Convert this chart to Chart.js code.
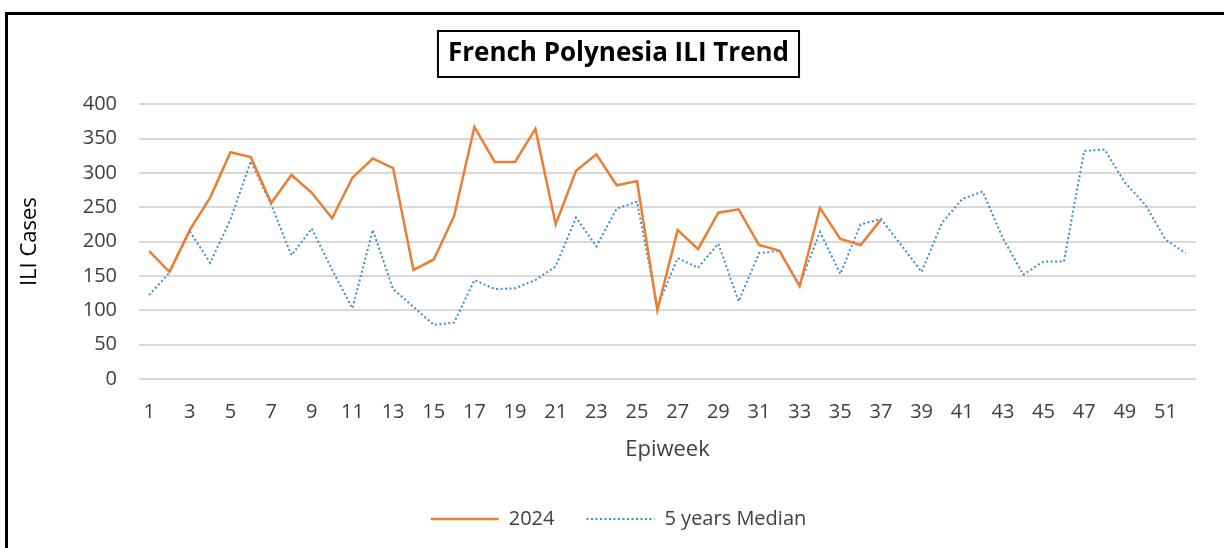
<!DOCTYPE html>
<html>
<head>
<meta charset="utf-8">
<script src="https://cdn.jsdelivr.net/npm/chart.js@4"></script>
<style>
  html, body { margin: 0; padding: 0; background: #fff; overflow: hidden; }
  .frame { position: absolute; left: 5px; top: 12px; width: 1300px; height: 600px; border-top: 3px solid #000; border-left: 3px solid #000; }
  .wrap { position: absolute; left: 8px; top: 0; width: 1216px; height: 548px; }
</style>
</head>
<body>
<div class="frame"></div>
<div class="wrap"><canvas id="chart"></canvas></div>
<script>
const weeks = Array.from({ length: 52 }, (_, i) => String(i + 1));

// 2024 ILI cases, weeks 1-37 (rest not yet reported)
const cases2024 = [186, 156, 217, 264, 330, 323, 256, 297, 271, 234, 293, 321, 307, 159, 174, 237, 367, 316, 316, 364,
  225, 303, 327, 282, 288, 100, 217, 189, 242, 247, 195, 187, 135, 249, 204, 195, 232];

const median5y = [122, 155, 215, 169, 232, 317, 254, 180, 219, 159, 103, 217, 131, 105, 79, 82, 144, 131, 132, 144,
  164, 235, 193, 248, 258, 105, 176, 162, 197, 113, 183, 187, 137, 214, 153, 225, 233, 195, 156, 227,
  262, 273, 205, 152, 171, 171, 332, 334, 286, 254, 203, 183];

const FONT = "'Open Sans', sans-serif";
const TEXT = '#404040';

// box around the chart title
const titleBox = {
  id: 'titleBox',
  afterDraw(chart) {
    const t = chart.titleBlock;
    if (!t) return;
    const ctx = chart.ctx;
    ctx.save();
    ctx.font = "bold 26px " + FONT;
    const w = ctx.measureText(chart.options.plugins.title.text).width;
    const cx = (t.left + t.right) / 2;
    ctx.strokeStyle = '#000';
    ctx.lineWidth = 2;
    ctx.strokeRect(cx - w / 2 - 10, 31, w + 20, 46);
    ctx.restore();
  }
};

new Chart(document.getElementById('chart'), {
  type: 'line',
  data: {
    labels: weeks,
    datasets: [
      {
        label: '2024',
        data: cases2024,
        borderColor: '#ED7D31',
        backgroundColor: '#ED7D31',
        borderWidth: 2.5,
        pointRadius: 0,
        tension: 0
      },
      {
        label: '5 years Median',
        data: median5y,
        borderColor: '#3C8DD6',
        backgroundColor: '#3C8DD6',
        borderWidth: 2,
        borderDash: [2, 2.5],
        pointRadius: 0,
        tension: 0
      }
    ]
  },
  options: {
    responsive: true,
    maintainAspectRatio: false,
    animation: false,
    layout: { padding: { left: 33, right: 28, top: 0, bottom: 9 } },
    plugins: {
      title: {
        display: true,
        text: 'French Polynesia ILI Trend',
        color: '#000',
        font: { family: FONT, size: 26, weight: 'bold', lineHeight: 1.2 },
        padding: { top: 38, bottom: 35 }
      },
      legend: {
        position: 'bottom',
        labels: {
          usePointStyle: true,
          pointStyleWidth: 68,
          padding: 32,
          color: TEXT,
          font: { family: FONT, size: 20 },
          generateLabels(chart) {
            return chart.data.datasets.map((ds, i) => ({
              text: ds.label,
              fillStyle: ds.borderColor,
              strokeStyle: ds.borderColor,
              lineWidth: ds.borderWidth,
              lineDash: ds.borderDash || [],
              pointStyle: 'line',
              fontColor: TEXT,
              hidden: false,
              datasetIndex: i
            }));
          }
        }
      },
      tooltip: { enabled: false }
    },
    scales: {
      x: {
        offset: true,
        grid: { display: false },
        border: { display: false },
        ticks: {
          autoSkip: false,
          maxRotation: 0,
          padding: 13,
          color: TEXT,
          font: { family: FONT, size: 20 },
          callback: function(val, idx) {
            return idx % 2 === 0 ? this.getLabelForValue(val) : '';
          }
        },
        title: {
          display: true,
          text: 'Epiweek',
          color: TEXT,
          font: { family: FONT, size: 22 },
          padding: { top: 0, bottom: 14 }
        },
        afterFit(scale) { scale.height = 98; }
      },
      y: {
        min: 0,
        max: 400,
        ticks: {
          stepSize: 50,
          padding: 22,
          color: TEXT,
          font: { family: FONT, size: 20 },
          callback: v => v
        },
        grid: { color: '#D9D9D9', lineWidth: 2, drawTicks: false },
        border: { display: false },
        title: {
          display: true,
          text: 'ILI Cases',
          color: '#000',
          font: { family: FONT, size: 22 },
          // pulled left of the scale box, next to the frame
          padding: { top: -24, bottom: 0 }
        },
        afterFit(scale) { scale.width = 98; }
      }
    }
  },
  plugins: [titleBox]
});
</script>
</body>
</html>
